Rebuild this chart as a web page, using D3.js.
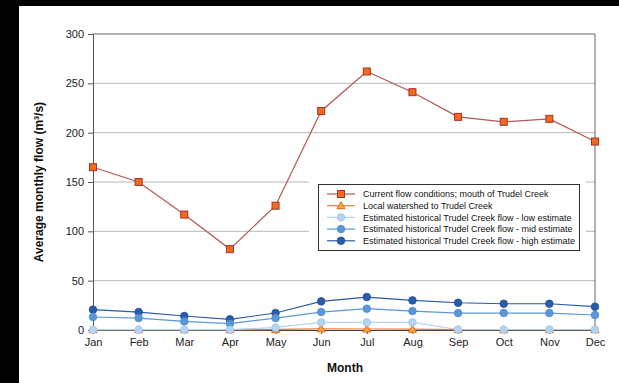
<!DOCTYPE html>
<html>
<head>
<meta charset="utf-8">
<script src="https://cdn.jsdelivr.net/npm/d3@7"></script>
<style>
  html, body { margin: 0; padding: 0; background: #000; }
  svg { display: block; }
</style>
</head>
<body>
<div id="chart"></div>
<script>
// data
const months = ["Jan", "Feb", "Mar", "Apr", "May", "Jun", "Jul", "Aug", "Sep", "Oct", "Nov", "Dec"];
const yTicks = [0, 50, 100, 150, 200, 250, 300];

const currentFlow = [165, 150, 117, 82, 126, 222, 262, 241, 216, 211, 214, 191];
const localWatershed = [0.3, 0.3, 0.3, 0.3, 0.6, 1.2, 1.0, 0.8, 0.3, 0.3, 0.3, 0.3];
const lowEstimate = [0.3, 0.3, 0.3, 0.3, 2.6, 7.7, 7.7, 7.7, 0.5, 0.5, 0.5, 0.5];
const midEstimate = [13.2, 12.1, 8.7, 6.4, 12.1, 18.2, 21.6, 19.2, 17.2, 17.2, 17.2, 15.2];
const highEstimate = [20.6, 18.2, 14.2, 10.8, 17.2, 29, 33.4, 30, 27.6, 26.6, 26.6, 23.6];

const series = [
  { name: "Current flow conditions; mouth of Trudel Creek", values: currentFlow,
    line: "#b05a58", fill: "#f26a1b", stroke: "#a8302a", shape: "square" },
  { name: "Local watershed to Trudel Creek", values: localWatershed,
    line: "#e8793a", fill: "#f9a83c", stroke: "#e0651c", shape: "triangle" },
  { name: "Estimated historical Trudel Creek flow - low estimate", values: lowEstimate,
    line: "#b4d3f0", fill: "#b4d3f0", stroke: "#a4c6ea", shape: "circle" },
  { name: "Estimated historical Trudel Creek flow - mid estimate", values: midEstimate,
    line: "#5b97d6", fill: "#5b97d6", stroke: "#4d8ace", shape: "circle" },
  { name: "Estimated historical Trudel Creek flow - high estimate", values: highEstimate,
    line: "#2a5ba8", fill: "#2a5ba8", stroke: "#234f99", shape: "circle" }
];

const W = 619, H = 383;
const margin = { top: 34, right: 24, bottom: 53, left: 93 };

const svg = d3.select("#chart").append("svg")
  .attr("width", W)
  .attr("height", H)
  .style("font-family", "Arial, 'Liberation Sans', sans-serif");

// black frame, white page
svg.append("rect").attr("width", W).attr("height", H).attr("fill", "#000");
svg.append("rect").attr("x", 19).attr("y", 6).attr("width", W - 19).attr("height", H - 6).attr("fill", "#fff");

const x = d3.scalePoint()
  .domain(months)
  .range([margin.left, W - margin.right]);

const y = d3.scaleLinear()
  .domain([0, 300])
  .range([H - margin.bottom, margin.top]);

// gridlines
svg.append("g")
  .selectAll("line")
  .data(yTicks.filter(d => d > 0 && d < 300))
  .join("line")
  .attr("x1", margin.left)
  .attr("x2", W - margin.right)
  .attr("y1", d => y(d))
  .attr("y2", d => y(d))
  .attr("stroke", "#b8b8b8")
  .attr("stroke-width", 1);

// frame top + right
svg.append("path")
  .attr("d", `M${margin.left},${y(300)}H${W - margin.right}V${y(0)}`)
  .attr("fill", "none")
  .attr("stroke", "#666")
  .attr("stroke-width", 1);

// axes
const yAxis = svg.append("g")
  .attr("transform", `translate(${margin.left},0)`)
  .call(d3.axisLeft(y).tickValues(yTicks).tickSize(5).tickPadding(4));
yAxis.select(".domain").attr("stroke", "#555");
yAxis.selectAll(".tick line").attr("stroke", "#555");
yAxis.selectAll("text").attr("font-size", 11).attr("fill", "#222");

const xAxis = svg.append("g")
  .attr("transform", `translate(0,${y(0)})`)
  .call(d3.axisBottom(x).tickSize(4).tickPadding(4));
xAxis.select(".domain").attr("stroke", "#444");
xAxis.selectAll(".tick line").attr("stroke", "#555");
xAxis.selectAll("text").attr("font-size", 11).attr("fill", "#222");

// axis titles
svg.append("text")
  .attr("transform", `translate(43,${(y(0) + y(300)) / 2}) rotate(-90)`)
  .attr("text-anchor", "middle")
  .attr("font-size", 12)
  .attr("font-weight", "bold")
  .attr("fill", "#111")
  .text("Average monthly flow (m³/s)");

svg.append("text")
  .attr("x", 345)
  .attr("y", 372)
  .attr("text-anchor", "middle")
  .attr("font-size", 12)
  .attr("font-weight", "bold")
  .attr("fill", "#111")
  .text("Month");

const line = d3.line()
  .x((d, i) => x(months[i]))
  .y(d => y(d));

function drawMarker(g, s, cx, cy) {
  if (s.shape === "square") {
    g.append("rect")
      .attr("x", cx - 3.5).attr("y", cy - 3.5).attr("width", 7).attr("height", 7)
      .attr("fill", s.fill).attr("stroke", s.stroke).attr("stroke-width", 1);
  } else if (s.shape === "triangle") {
    g.append("path")
      .attr("d", `M${cx},${cy - 4}L${cx + 4},${cy + 3}L${cx - 4},${cy + 3}Z`)
      .attr("fill", s.fill).attr("stroke", s.stroke).attr("stroke-width", 1);
  } else {
    g.append("circle")
      .attr("cx", cx).attr("cy", cy).attr("r", 3.8)
      .attr("fill", s.fill).attr("stroke", s.stroke).attr("stroke-width", 0.8);
  }
}

// draw series back to front so low values sit on top like the original
const drawOrder = [1, 4, 3, 2, 0];
drawOrder.forEach(idx => {
  const s = series[idx];
  const g = svg.append("g");
  g.append("path")
    .datum(s.values)
    .attr("fill", "none")
    .attr("stroke", s.line)
    .attr("stroke-width", 1.2)
    .attr("d", line);
  s.values.forEach((v, i) => drawMarker(g, s, x(months[i]), y(v)));
});

// legend
const lg = svg.append("g");
lg.append("rect")
  .attr("x", 309).attr("y", 176).attr("width", 277).attr("height", 84)
  .attr("fill", "#fff");
lg.append("rect")
  .attr("x", 318.5).attr("y", 184.5).attr("width", 261).attr("height", 66)
  .attr("fill", "#fff")
  .attr("stroke", "#333")
  .attr("stroke-width", 1);

series.forEach((s, i) => {
  const ly = 194 + i * 11.7;
  const g = lg.append("g");
  g.append("line")
    .attr("x1", 327).attr("x2", 355)
    .attr("y1", ly).attr("y2", ly)
    .attr("stroke", s.line).attr("stroke-width", 1.2);
  drawMarker(g, s, 341, ly);
  g.append("text")
    .attr("x", 363).attr("y", ly + 3.3)
    .attr("font-size", 9)
    .attr("fill", "#111")
    .text(s.name);
});
</script>
</body>
</html>
